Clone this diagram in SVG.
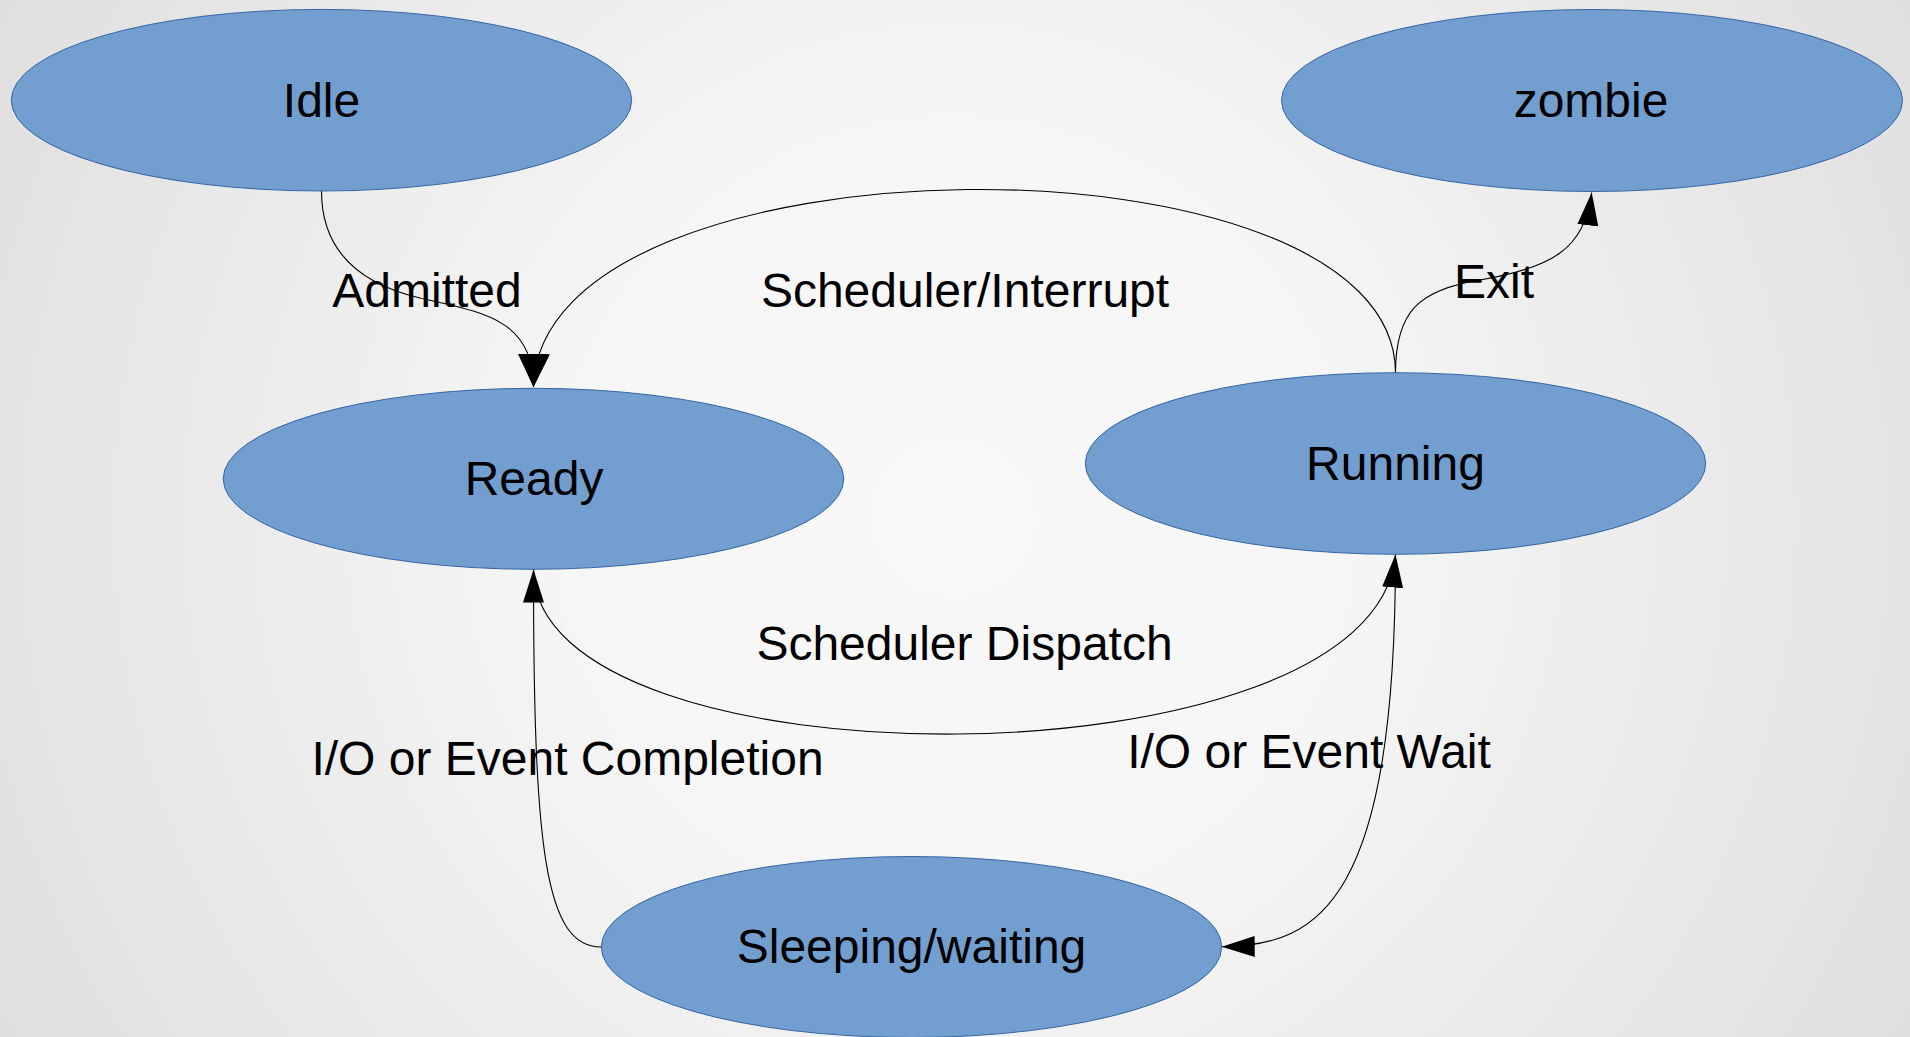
<svg xmlns="http://www.w3.org/2000/svg" width="1910" height="1037" viewBox="0 0 1910 1037">
<style>
.node ellipse{fill:#729fcf;stroke:#3465a4;stroke-width:1}
text{font-family:"Liberation Sans",Arial,sans-serif;font-size:48px;fill:#000;text-anchor:middle}
.edge{fill:none;stroke:#000;stroke-width:1.1;marker-end:url(#arr)}
.edge.wide{marker-end:url(#arrw)}
</style>
<defs>
<radialGradient id="bg" gradientUnits="userSpaceOnUse" cx="955" cy="518" r="1090">
<stop offset="0" stop-color="#f8f8f8"/>
<stop offset="0.35" stop-color="#f6f6f6"/>
<stop offset="1" stop-color="#dfdfdf"/>
</radialGradient>
<marker id="arr" markerUnits="userSpaceOnUse" markerWidth="34" markerHeight="22" refX="33" refY="10.5" orient="auto" viewBox="0 0 34 22">
<path d="M0,0 L33,10.5 L0,21 z" fill="#000"/>
</marker>
<marker id="arrw" markerUnits="userSpaceOnUse" markerWidth="34" markerHeight="32" refX="33" refY="15.5" orient="auto" viewBox="0 0 34 32">
<path d="M0,0 L33,15.5 L0,31 z" fill="#000"/>
</marker>
</defs>
<rect x="0" y="0" width="1910" height="1037" fill="url(#bg)"/>

<g id="connectors">
<path id="e-admitted" class="edge wide" d="M321.5,191 C321.5,255 365,285 420,298 C480,312 533.5,318 533.5,387"/>
<path id="e-interrupt" class="edge wide" d="M1395.5,373 C1395.5,124 540,128 533.5,387"/>
<path id="e-exit" class="edge" d="M1395.5,373 C1395.5,310 1420,290 1480,280 C1550,268 1585,250 1591.7,192.5"/>
<path id="e-dispatch" class="edge" d="M533.5,569 C533.5,791.5 1375,791.5 1395.5,554.5"/>
<path id="e-wait" class="edge" d="M1395.5,554.5 C1395.5,900 1320,946 1221.7,946.7"/>
<path id="e-complete" class="edge" d="M601.3,947 C545,947 533.5,850 533.5,569.5"/>
</g>

<g id="node-idle" class="node">
<ellipse cx="321.5" cy="100.2" rx="310.2" ry="90.8"/>
<text x="321.5" y="116.7">Idle</text>
</g>
<g id="node-zombie" class="node">
<ellipse cx="1592" cy="100.5" rx="310.5" ry="91"/>
<text x="1591" y="116.7">zombie</text>
</g>
<g id="node-ready" class="node">
<ellipse cx="533.5" cy="478.8" rx="310.3" ry="90.5"/>
<text x="534" y="495">Ready</text>
</g>
<g id="node-running" class="node">
<ellipse cx="1395.5" cy="463.5" rx="310.2" ry="90.8"/>
<text x="1395.5" y="480">Running</text>
</g>
<g id="node-sleeping" class="node">
<ellipse cx="911.5" cy="947" rx="310.2" ry="90.5"/>
<text x="911.5" y="963.3">Sleeping/waiting</text>
</g>

<g id="labels">
<text x="427" y="306.7">Admitted</text>
<text x="965" y="306.7">Scheduler/Interrupt</text>
<text x="1494" y="298.3">Exit</text>
<text x="964.5" y="660">Scheduler Dispatch</text>
<text x="567.5" y="775">I/O or Event Completion</text>
<text x="1309" y="768.3">I/O or Event Wait</text>
</g>
</svg>
